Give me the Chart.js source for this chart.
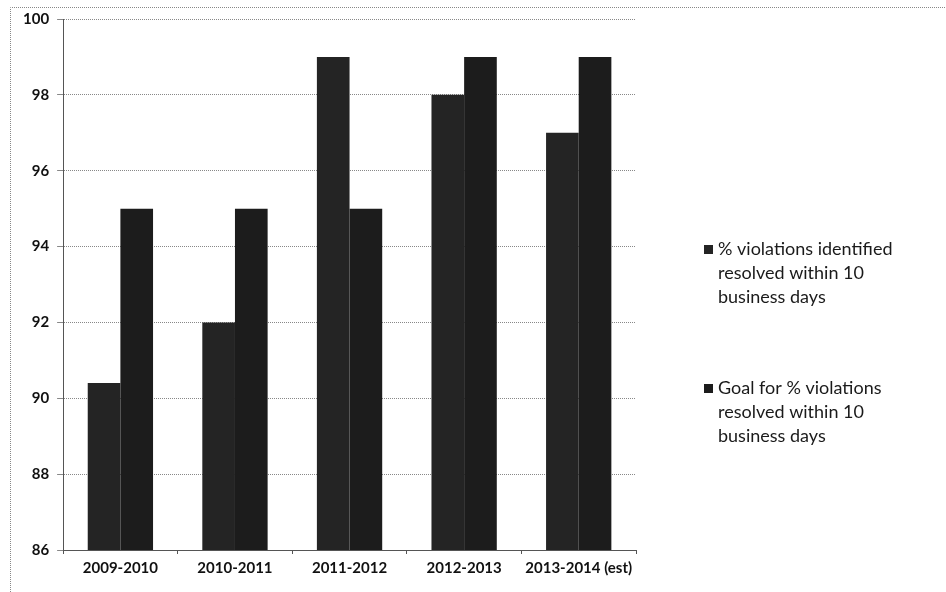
<!DOCTYPE html>
<html><head><meta charset="utf-8">
<script src="https://cdn.jsdelivr.net/npm/chart.js@4.4.0/dist/chart.umd.min.js"></script>
<style>html,body{margin:0;padding:0;background:#fff;}canvas{display:block;}</style>
</head><body>
<canvas id="c" width="946" height="592"></canvas>
<script>
const categories = ["2009-2010","2010-2011","2011-2012","2012-2013","2013-2014 (est)"];
const resolvedPct = [90.4, 92, 99, 98, 97];
const goalPct = [95, 95, 95, 99, 99];
const seriesLabels = [
  ["% violations identified","resolved within 10","business days"],
  ["Goal for % violations","resolved within 10","business days"]
];
const yTicks = {min:86, max:100, step:2};

const frame = {
  id:'frame',
  beforeDraw(chart){
    const c = chart.ctx;
    c.save();
    c.strokeStyle='#888'; c.lineWidth=1; c.setLineDash([1,1]);
    c.beginPath();
    c.moveTo(10.5, 600); c.lineTo(10.5, 7.5); c.lineTo(950, 7.5);
    c.stroke();
    c.restore();
  }
};
const legendPlugin = {
  id:'customLegend',
  afterDraw(chart){
    const c = chart.ctx;
    c.save();
    c.font = '18px Lato, "Open Sans", sans-serif';
    c.textBaseline = 'middle';
    const starts = [249, 388];
    chart.data.datasets.forEach((ds,i)=>{
      const y0 = starts[i];
      c.fillStyle = ds.backgroundColor;
      c.fillRect(704, y0-4, 9, 9);
      c.fillStyle = '#1a1a1a';
      ds.label.forEach((line,j)=>{ c.fillText(line, 718, y0 + j*24); });
    });
    c.restore();
  }
};

const tickFont = {family:'Lato, "Open Sans", sans-serif', size:15, weight:'bold'};
new Chart(document.getElementById('c'), {
  type:'bar',
  data:{
    labels: categories,
    datasets:[
      {label: seriesLabels[0], data: resolvedPct, backgroundColor:'#242424', categoryPercentage:0.57, barPercentage:1.0},
      {label: seriesLabels[1], data: goalPct, backgroundColor:'#1c1c1c', categoryPercentage:0.57, barPercentage:1.0}
    ]
  },
  options:{
    responsive:false, animation:false,
    layout:{padding:{left:15, right:310, top:19, bottom:10}},
    plugins:{legend:{display:false}, tooltip:{enabled:false}},
    scales:{
      x:{
        grid:{display:true, drawOnChartArea:false, drawTicks:true, tickLength:4, color:'#555', offset:true},
        border:{color:'#555', dash:[1,1]},
        ticks:{font:tickFont, color:'#111', padding:5}
      },
      y:{
        min:yTicks.min, max:yTicks.max,
        grid:{color:'#888', tickLength:6, lineWidth:1},
        border:{color:'#555', dash:[1,1]},
        ticks:{stepSize:yTicks.step, font:tickFont, color:'#111', padding:8}
      }
    }
  },
  plugins:[frame, legendPlugin]
});
</script>
</body></html>
